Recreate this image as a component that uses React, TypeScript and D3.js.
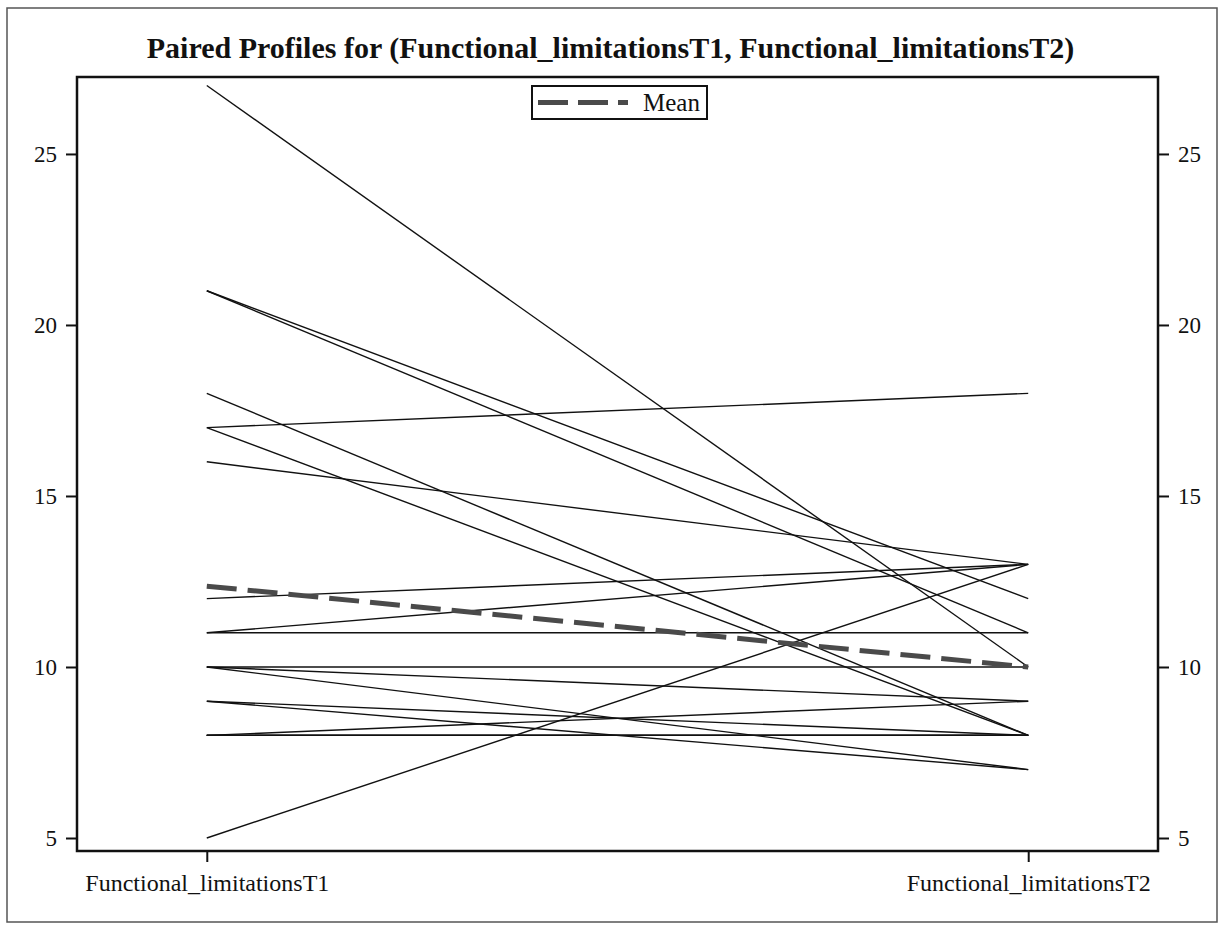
import React, { useRef, useEffect } from 'react';
import * as d3 from 'd3';

// Paired profiles chart — one line per subject from T1 to T2, plus the mean profile.

const variables = ['Functional_limitationsT1', 'Functional_limitationsT2'];
const t1Values = [27, 21, 21, 18, 17, 17, 16, 12, 11, 11, 10, 10, 10, 9, 9, 8, 8, 8, 8, 8, 8, 5];
const t2Values = [10, 12, 11, 8, 18, 8, 13, 13, 13, 11, 10, 9, 7, 8, 7, 8, 9, 8, 8, 8, 8, 13];
const yTicks = [5, 10, 15, 20, 25];
const titleText = 'Paired Profiles for (Functional_limitationsT1, Functional_limitationsT2)';
const legendLabel = 'Mean';

const FONT = '"Liberation Serif", "Times New Roman", serif';

export default function App() {
  const svgRef = useRef<SVGSVGElement>(null);

  useEffect(() => {
    const svg = d3.select(svgRef.current);
    svg.selectAll('*').remove();

    const width = 1221;
    const frame = { left: 77, right: 1158, top: 77, bottom: 851 };

    // outer border of the graph area
    svg.append('rect').attr('x', 7).attr('y', 8).attr('width', 1210).attr('height', 914)
      .attr('fill', 'white').attr('stroke', '#555').attr('stroke-width', 1.5);

    svg.append('text').attr('x', width / 2).attr('y', 58)
      .attr('text-anchor', 'middle').attr('font-family', FONT)
      .attr('font-size', 30).attr('font-weight', 'bold').attr('fill', '#111')
      .text(titleText);

    const x = d3.scalePoint<string>().domain(variables)
      .range([frame.left, frame.right]).padding(0.158);
    const y = d3.scaleLinear().domain([4.62, 27.25]).range([frame.bottom, frame.top]);

    // subject profiles
    const g = svg.append('g');
    t1Values.forEach((v, i) => {
      g.append('line')
        .attr('x1', x(variables[0])!).attr('y1', y(v))
        .attr('x2', x(variables[1])!).attr('y2', y(t2Values[i]))
        .attr('stroke', '#111').attr('stroke-width', 1.4);
    });

    // mean profile
    const m1 = d3.mean(t1Values)!;
    const m2 = d3.mean(t2Values)!;
    g.append('line')
      .attr('x1', x(variables[0])!).attr('y1', y(m1))
      .attr('x2', x(variables[1])!).attr('y2', y(m2))
      .attr('stroke', '#4a4a4a').attr('stroke-width', 5)
      .attr('stroke-dasharray', '30 11');

    // frame
    svg.append('rect').attr('x', frame.left).attr('y', frame.top)
      .attr('width', frame.right - frame.left).attr('height', frame.bottom - frame.top)
      .attr('fill', 'none').attr('stroke', '#111').attr('stroke-width', 2.5);

    const styleAxis = (size: number) => (sel: d3.Selection<SVGGElement, unknown, null, undefined>) => {
      sel.select('.domain').remove();
      sel.selectAll('line').attr('stroke', '#111').attr('stroke-width', 2);
      sel.selectAll('text').attr('font-family', FONT).attr('font-size', size).attr('fill', '#111');
    };

    svg.append('g').attr('transform', `translate(${frame.left},0)`)
      .call(d3.axisLeft(y).tickValues(yTicks).tickSize(11).tickPadding(9).tickFormat(d3.format('d')))
      .call(styleAxis(23));

    svg.append('g').attr('transform', `translate(${frame.right},0)`)
      .call(d3.axisRight(y).tickValues(yTicks).tickSize(11).tickPadding(9).tickFormat(d3.format('d')))
      .call(styleAxis(23));

    svg.append('g').attr('transform', `translate(0,${frame.bottom})`)
      .call(d3.axisBottom(x).tickSize(11).tickPadding(12))
      .call(styleAxis(24));

    // legend
    const lg = svg.append('g').attr('transform', 'translate(532,86)');
    lg.append('rect').attr('width', 175).attr('height', 33)
      .attr('fill', 'white').attr('stroke', '#111').attr('stroke-width', 2);
    lg.append('line').attr('x1', 6).attr('x2', 96).attr('y1', 16.5).attr('y2', 16.5)
      .attr('stroke', '#4a4a4a').attr('stroke-width', 5).attr('stroke-dasharray', '30 10');
    lg.append('text').attr('x', 111).attr('y', 25)
      .attr('font-family', FONT).attr('font-size', 25).attr('fill', '#111')
      .text(legendLabel);
  }, []);

  return (
    <svg ref={svgRef} width={1221} height={926}
      style={{ position: 'absolute', left: 0, top: 0, background: 'white' }} />
  );
}
